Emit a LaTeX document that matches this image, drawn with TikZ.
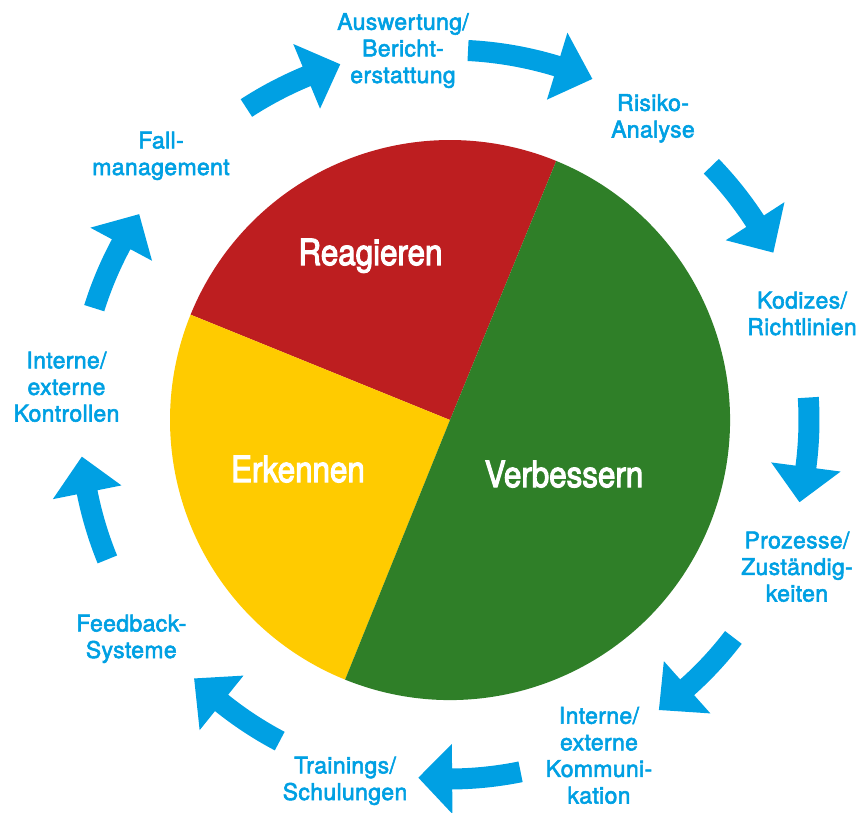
\documentclass[tikz,border=0pt]{standalone}
\usepackage{fontspec}
\newfontfamily\lblfont{TeX Gyre Heros}[FakeBold=2.5,LetterSpace=1.5]
\newfontfamily\phasefont{TeX Gyre Heros}[FakeStretch=0.87,FakeBold=3]
\definecolor{phasered}{RGB}{189,30,32}
\definecolor{phaseyellow}{RGB}{255,203,0}
\definecolor{phasegreen}{RGB}{47,127,40}
\definecolor{cycblue}{RGB}{0,160,227}

% curved block arrow around the centre: tail angle, head-base angle, tip angle, radius
\newcommand\cyclearrow[4]{%
  \fill[cycblue] ({#1}:{#4+10.5}) arc[start angle=#1, end angle=#2, radius=#4+10.5]
    -- ({#2}:{#4+35}) -- ({#3}:{#4}) -- ({#2}:{#4-35}) -- ({#2}:{#4-10.5})
    arc[start angle=#2, end angle=#1, radius=#4-10.5] -- cycle;}

% labels are placed by the baseline of their last line
\tikzset{
  steplabel/.style={align=center, anchor=base, inner sep=0pt, text=cycblue,
    font=\lblfont\fontsize{23}{26.6}\selectfont},
  phaselabel/.style={anchor=base, inner sep=0pt, text=white,
    font=\phasefont\fontsize{36}{40}\selectfont}
}

\begin{document}
\begin{tikzpicture}[x=1pt,y=1pt]
\useasboundingbox (0,0) rectangle (868,-812);

% pie of the three phases
\begin{scope}[shift={(450,-420)}]
  \fill[phasered] (0,0) -- (67.7:280) arc[start angle=67.7, end angle=157.9, radius=280] -- cycle;
  \fill[phaseyellow] (0,0) -- (157.9:280) arc[start angle=157.9, end angle=248, radius=280] -- cycle;
  \fill[phasegreen] (0,0) -- (248:280) arc[start angle=248, end angle=427.7, radius=280] -- cycle;
\end{scope}

% ring of arrows
\begin{scope}[shift={(449,-420)}]
  \cyclearrow{123.0}{112.5}{107.0}{372}
  \cyclearrow{87.05}{73.0}{67.2}{370}
  \cyclearrow{44.05}{33.0}{27.3}{365}
  \cyclearrow{3.58}{-7.5}{-13.2}{360}
  \cyclearrow{-37.4}{-48.3}{-54.1}{358}
  \cyclearrow{-78.5}{-89.5}{-94.9}{359}
  \cyclearrow{242.2}{231.2}{225.4}{363}
  \cyclearrow{202.2}{191.3}{185.7}{369}
  \cyclearrow{162.5}{151.8}{146.4}{372}
\end{scope}

% phase names
\node[phaselabel] (reag) at (370.5,-265) {Reagieren};
\node[phaselabel] (erk) at (298,-482) {Erkennen};
\node[phaselabel] (verb) at (564,-487) {Verbessern};

% step labels
\node[steplabel] (fall) at (161,-175) {Fall-\\management};
\node[steplabel] (ausw) at (403,-83) {Auswertung/\\Bericht-\\erstattung};
\node[steplabel] (risk) at (653,-137.5) {Risiko-\\Analyse};
\node[steplabel] (kodx) at (802,-335) {Kodizes/\\Richtlinien};
\node[steplabel] (proz) at (797,-601.5) {Prozesse/\\Zuständig-\\keiten};
\node[steplabel] (komm) at (599,-803.5) {Interne/\\externe\\Kommuni-\\kation};
\node[steplabel] (train) at (345,-800) {Trainings/\\Schulungen};
\node[steplabel] (feed) at (131.3,-658) {Feedback-\\Systeme};
\node[steplabel] (kontr) at (66.5,-421.5) {Interne/\\externe\\Kontrollen};
\end{tikzpicture}
\end{document}
